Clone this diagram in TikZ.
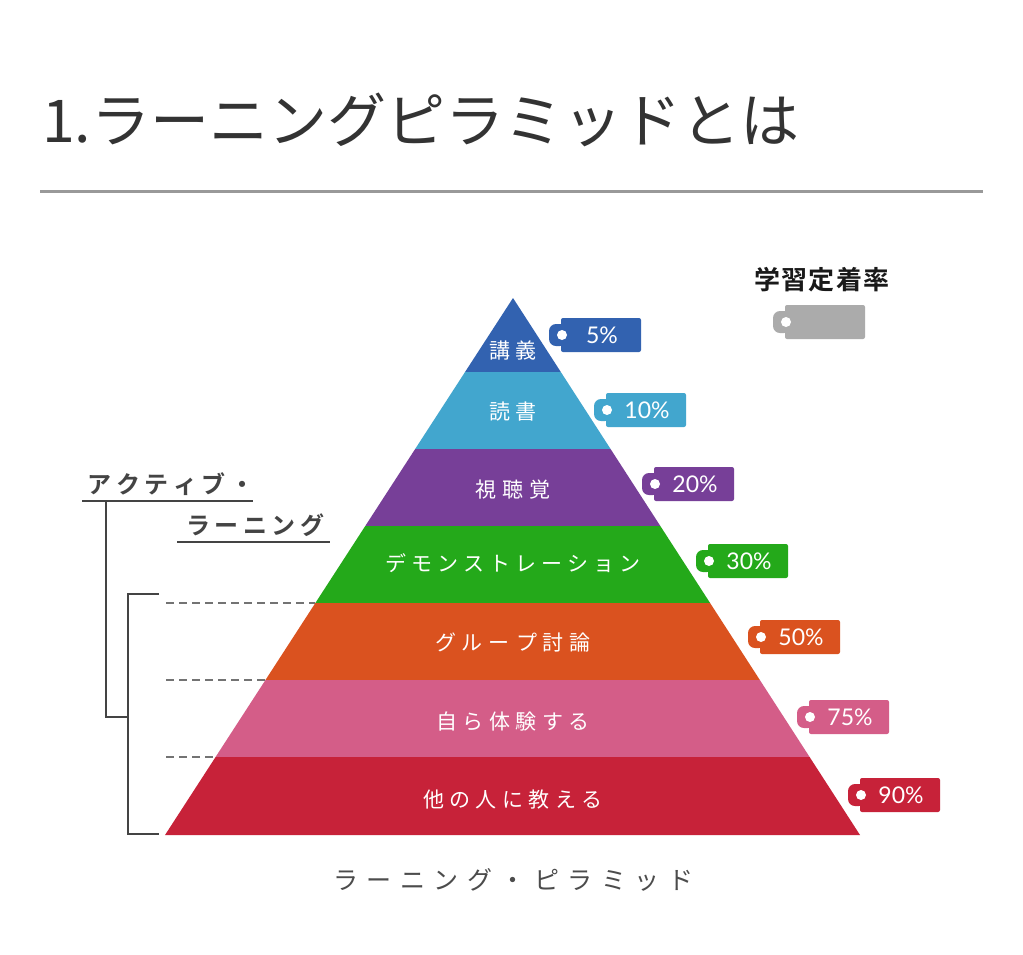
\documentclass[tikz,border=0pt]{standalone}
\usepackage{fontspec}
\newfontfamily\jp{Noto Sans CJK JP}
\newfontfamily\jpb{Noto Sans CJK JP Bold}
\newfontfamily\numf{Lato}
\definecolor{cBlue}{HTML}{3262B0}
\definecolor{cLblue}{HTML}{42A6CE}
\definecolor{cPurple}{HTML}{773F98}
\definecolor{cGreen}{HTML}{24A91A}
\definecolor{cOrange}{HTML}{DA521F}
\definecolor{cPink}{HTML}{D45D88}
\definecolor{cRed}{HTML}{C72239}
\definecolor{cGray}{HTML}{ABABAB}
\definecolor{cTitle}{HTML}{333333}
\definecolor{cLine}{HTML}{444444}
\def\spk{0pt}
\def\spaced#1#2{\def\spk{#1}\spacedi#2\relax}
\def\spacedi#1#2{#1\ifx#2\relax\else\kern\spk\expandafter\spacedi\expandafter#2\fi}
\newcommand{\lay}[3]{\fill[#3] ({513-(#1-298)*0.648},#1) -- ({513+(#1-298)*0.6462},#1) -- ({513+(#2-298)*0.6462},#2) -- ({513-(#2-298)*0.648},#2) -- cycle;}
\newcommand{\pricetag}[5]{%
  \fill[#4, rounded corners=2pt] (#2,#3-17) rectangle (#2+80,#3+17);
  \fill[#4, rounded corners=7pt] (#2-12,#3-11) rectangle (#2+6,#3+11);
  \fill[white] (#2+1,#3) circle (5);
  \node[tagtxt] (#1) at (#2+41,#3) {#5};}
\begin{document}
\begin{tikzpicture}[x=1pt,y=-1pt,
  tagtxt/.style={text=white, font=\numf\fontsize{23}{23}\selectfont, inner sep=0pt},
  laytxt/.style={text=white, font=\jp\fontsize{21}{21}\selectfont, inner sep=0pt},
  sidetxt/.style={text=cLine, font=\jpb\fontsize{24}{24}\selectfont, inner sep=0pt},
  brk/.style={draw=cLine, line width=2.5pt},
  dsh/.style={draw=black!55, line width=1.8pt, dash pattern=on 8pt off 5pt}]
\useasboundingbox (0,0) rectangle (1023,954);
\fill[white] (0,0) rectangle (1023,954);
% title
\node[anchor=west, inner sep=0pt, text=cTitle, font=\jp\fontsize{59}{59}\selectfont] (title) at (42,120) {1.ラーニングピラミッドとは};
\coordinate (rl) at (40,191);
\coordinate (rr) at (983,191);
\draw[draw=black!40, line width=3pt] (rl) -- (rr);
% pyramid
\lay{298}{372}{cBlue}
\lay{372}{449}{cLblue}
\lay{449}{526}{cPurple}
\lay{526}{603}{cGreen}
\lay{603}{680}{cOrange}
\lay{680}{757}{cPink}
\lay{757}{835}{cRed}
\node[laytxt] (l1) at (513,350) {\spaced{6pt}{講義}};
\node[laytxt] (l2) at (513,412) {\spaced{6pt}{読書}};
\node[laytxt] (l3) at (513,490) {\spaced{6pt}{視聴覚}};
\node[laytxt] (l4) at (513,563) {\spaced{5pt}{デモンストレーション}};
\node[laytxt] (l5) at (513,642) {\spaced{6pt}{グループ討論}};
\node[laytxt] (l6) at (513,721) {\spaced{5.5pt}{自ら体験する}};
\node[laytxt] (l7) at (513,800) {\spaced{5.5pt}{他の人に教える}};
% tags
\pricetag{t1}{561}{335}{cBlue}{5\%}
\pricetag{t2}{606}{410}{cLblue}{10\%}
\pricetag{t3}{654}{484}{cPurple}{20\%}
\pricetag{t4}{708}{561}{cGreen}{30\%}
\pricetag{t5}{760}{637}{cOrange}{50\%}
\pricetag{t6}{809}{717}{cPink}{75\%}
\pricetag{t7}{860}{795}{cRed}{90\%}
\pricetag{tl}{785}{322}{cGray}{}
\node[inner sep=0pt, text=black!90, font=\jpb\fontsize{26}{26}\selectfont] (legend) at (822,280) {\spaced{1.5pt}{学習定着率}};
% side labels
\node[sidetxt] (al1) at (171,484) {\spaced{4.5pt}{アクティブ・}};
\node[sidetxt] (al2) at (255,525) {\spaced{4.5pt}{ラーニング}};
\coordinate (u1l) at (82,501); \coordinate (u1r) at (253,501);
\coordinate (u2l) at (177,542); \coordinate (u2r) at (330,542);
\draw[brk] (u1l) -- (u1r);
\draw[brk] (u2l) -- (u2r);
\coordinate (v1t) at (106,501); \coordinate (v1b) at (106,717); \coordinate (v1e) at (128,717);
\draw[brk] (v1t) -- (v1b) -- (v1e);
\coordinate (b2t) at (159,594); \coordinate (b2b) at (159,834);
\draw[brk] (b2t) -- (128,594) -- (128,834) -- (b2b);
% dashed
\coordinate (d1) at (166,603); \coordinate (e1) at (315,603);
\coordinate (d2) at (166,680); \coordinate (e2) at (265,680);
\coordinate (d3) at (166,757); \coordinate (e3) at (215,757);
\draw[dsh] (d1) -- (e1);
\draw[dsh] (d2) -- (e2);
\draw[dsh] (d3) -- (e3);
% caption
\node[inner sep=0pt, text=black!70, font=\jp\fontsize{25}{25}\selectfont] (cap) at (513,880) {\spaced{8.5pt}{ラーニング・ピラミッド}};
\end{tikzpicture}
\end{document}
